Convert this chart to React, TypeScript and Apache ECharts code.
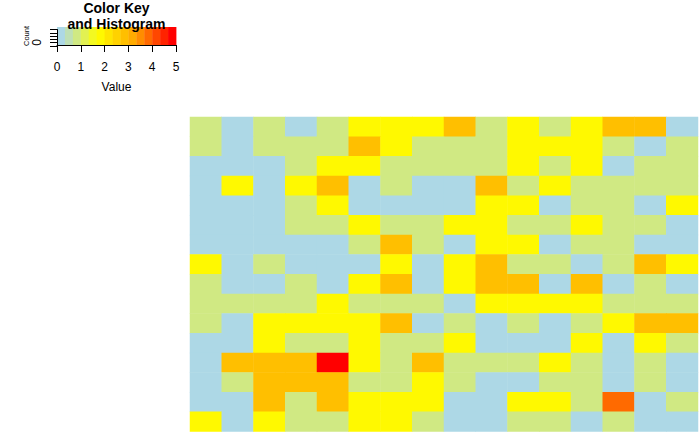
import React, { useEffect, useRef } from "react";
import * as echarts from "echarts";

// 15-colour key palette (lightblue -> yellow -> orange -> red)
const palette = [
  "#ADD8E6", "#BFE0B5", "#D0E983", "#E2F152", "#F3F921",
  "#FFF900", "#FFE500", "#FFD200", "#FFBF00", "#FFAB00",
  "#FF8D00", "#FF6A00", "#FF4700", "#FF2300", "#FF0000",
];

const keyMin = 0;
const keyMax = 5;
const keyTicks = ["0", "1", "2", "3", "4", "5"];

const columns = [
  "c1", "c2", "c3", "c4", "c5", "c6", "c7", "c8",
  "c9", "c10", "c11", "c12", "c13", "c14", "c15", "c16",
];
const rows = [
  "r1", "r2", "r3", "r4", "r5", "r6", "r7", "r8",
  "r9", "r10", "r11", "r12", "r13", "r14", "r15", "r16",
];

const values: number[][] = [
  [1, 0, 1, 0, 1, 2, 2, 2, 3, 1, 2, 1, 2, 3, 3, 0],
  [1, 0, 1, 1, 1, 3, 2, 1, 1, 1, 2, 2, 2, 1, 0, 1],
  [0, 0, 0, 1, 2, 2, 1, 1, 1, 1, 2, 1, 2, 0, 1, 1],
  [0, 2, 0, 2, 3, 0, 1, 0, 0, 3, 1, 2, 1, 1, 1, 1],
  [0, 0, 0, 1, 2, 0, 0, 0, 0, 2, 2, 0, 1, 1, 0, 2],
  [0, 0, 0, 1, 1, 2, 1, 1, 2, 2, 1, 1, 2, 1, 1, 0],
  [0, 0, 0, 0, 0, 1, 3, 1, 0, 2, 2, 0, 1, 1, 0, 0],
  [2, 0, 1, 0, 0, 0, 2, 0, 2, 3, 1, 1, 0, 1, 3, 2],
  [1, 0, 0, 1, 0, 2, 3, 0, 2, 3, 3, 0, 3, 0, 1, 0],
  [1, 1, 1, 1, 2, 1, 1, 1, 0, 2, 2, 2, 2, 1, 1, 1],
  [1, 0, 2, 2, 2, 2, 3, 0, 1, 0, 1, 0, 1, 2, 3, 3],
  [0, 0, 2, 1, 1, 2, 1, 1, 2, 0, 0, 0, 2, 0, 2, 1],
  [0, 3, 3, 3, 5, 2, 1, 3, 1, 1, 1, 2, 1, 0, 1, 0],
  [0, 1, 3, 3, 3, 1, 1, 2, 1, 0, 0, 1, 1, 0, 1, 0],
  [0, 0, 3, 1, 3, 2, 2, 2, 0, 0, 2, 2, 1, 4, 0, 1],
  [2, 0, 2, 1, 1, 2, 2, 1, 0, 0, 1, 1, 0, 1, 0, 0],
];

const FONT = "'Liberation Sans', Arial, Helvetica, sans-serif";

export default function App() {
  const ref = useRef<HTMLDivElement>(null);

  useEffect(() => {
    if (!ref.current) return;
    const chart = echarts.init(ref.current, null, { renderer: "svg" });

    const heatData: number[][] = [];
    values.forEach((row, r) => row.forEach((v, c) => heatData.push([c, r, v])));

    const step = (keyMax - keyMin) / palette.length;
    const keyData = palette.map((_, i) => [keyMin + i * step, keyMin + (i + 1) * step, i]);
    const pieces = palette.map((color, i) =>
      i === 0
        ? { gte: keyMin, lte: keyMin + step, color }
        : { gt: keyMin + i * step, lte: keyMin + (i + 1) * step, color }
    );

    const black = "#000";

    chart.setOption({
      animation: false,
      backgroundColor: "#fff",
      textStyle: { fontFamily: FONT },
      grid: [
        { left: 190, top: 117, width: 508, height: 314.5 },
        { left: 57, top: 27, width: 119, height: 18 },
        { left: 57, top: 29.5, width: 119, height: 16.5 },
      ],
      xAxis: [
        { type: "category", gridIndex: 0, data: columns, show: false },
        {
          type: "value",
          gridIndex: 1,
          min: keyMin,
          max: keyMax,
          interval: 1,
          axisLine: { show: true, lineStyle: { color: black, width: 1 } },
          axisTick: { show: true, length: 7, lineStyle: { color: black } },
          axisLabel: {
            show: true,
            color: black,
            fontSize: 12,
            fontFamily: FONT,
            margin: 16,
            formatter: (v: number) => keyTicks[Math.round(v)] ?? "",
          },
          splitLine: { show: false },
          name: "Value",
          nameLocation: "middle",
          nameGap: 36,
          nameTextStyle: { color: black, fontSize: 12, fontFamily: FONT },
          z: 5,
        },
        { type: "value", gridIndex: 2, show: false, min: 0, max: 1 },
      ],
      yAxis: [
        { type: "category", gridIndex: 0, data: rows, inverse: true, show: false },
        { type: "value", gridIndex: 1, min: 0, max: 1, show: false },
        {
          type: "value",
          gridIndex: 2,
          min: 0,
          max: 5,
          interval: 1,
          axisLine: { show: true, lineStyle: { color: black, width: 1 } },
          axisTick: { show: true, length: 7, lineStyle: { color: black } },
          axisLabel: { show: false },
          splitLine: { show: false },
          z: 5,
        },
      ],
      visualMap: {
        type: "piecewise",
        show: false,
        seriesIndex: 0,
        dimension: 2,
        pieces,
      },
      series: [
        {
          type: "heatmap",
          xAxisIndex: 0,
          yAxisIndex: 0,
          data: heatData,
          itemStyle: { borderWidth: 0 },
          emphasis: { disabled: true },
        },
        {
          type: "custom",
          xAxisIndex: 1,
          yAxisIndex: 1,
          data: keyData,
          renderItem: (params: any, api: any) => {
            const p0 = api.coord([api.value(0), 1]);
            const p1 = api.coord([api.value(1), 0]);
            return {
              type: "rect",
              shape: { x: p0[0], y: p0[1], width: p1[0] - p0[0] + 0.4, height: p1[1] - p0[1] },
              style: { fill: palette[api.value(2)] },
            };
          },
          z: 2,
        },
      ],
      graphic: [
        {
          type: "text",
          x: 116.5,
          y: 7.9,
          style: {
            text: "Color Key",
            fontSize: 14,
            fontWeight: "bold",
            fontFamily: FONT,
            fill: black,
            align: "center",
            verticalAlign: "middle",
          },
          z: 10,
        },
        {
          type: "text",
          x: 116.5,
          y: 23.5,
          style: {
            text: "and Histogram",
            fontSize: 14,
            fontWeight: "bold",
            fontFamily: FONT,
            fill: black,
            align: "center",
            verticalAlign: "middle",
          },
          z: 10,
        },
        {
          type: "text",
          x: 26.5,
          y: 36,
          rotation: Math.PI / 2,
          style: {
            text: "Count",
            fontSize: 7.5,
            fontFamily: FONT,
            fill: black,
            align: "center",
            verticalAlign: "middle",
          },
        },
        {
          type: "text",
          x: 37,
          y: 42.5,
          rotation: Math.PI / 2,
          style: {
            text: "0",
            fontSize: 12,
            fontFamily: FONT,
            fill: black,
            align: "center",
            verticalAlign: "middle",
          },
        },
      ],
    });

    return () => chart.dispose();
  }, []);

  return (
    <div
      ref={ref}
      style={{ position: "absolute", left: 0, top: 0, width: 700, height: 432 }}
    />
  );
}
